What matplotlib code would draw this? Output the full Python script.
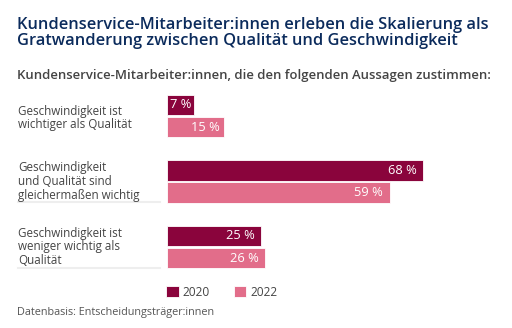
import matplotlib.pyplot as plt
import matplotlib.transforms as mtransforms

plt.rcParams['font.family'] = ['Open Sans', 'DejaVu Sans']

# Survey data
categories = [
    "Geschwindigkeit ist\nwichtiger als Qualität",
    "Geschwindigkeit\nund Qualität sind\ngleichermaßen wichtig",
    "Geschwindigkeit ist\nweniger wichtig als\nQualität",
]
values_2020 = [7, 68, 25]
values_2022 = [15, 59, 26]
years = ["2020", "2022"]

color_2020 = "#8a043c"
color_2022 = "#e26d8a"
navy = "#0b2b5c"
gray = "#444444"

fig = plt.figure(figsize=(5.12, 3.28), dpi=100)
fig.patch.set_facecolor("white")

# axes placed so bars start at the same left edge as the value column
ax = fig.add_axes([167.3 / 512, 1 - 272 / 328, 1 - 167.3 / 512, 182 / 328])
ax.set_xlim(0, 91.5)
ax.set_ylim(2.382, -0.397)
ax.axis("off")

bar_h = 0.313
off = 0.171
ypos = list(range(len(categories)))

b1 = ax.barh([y - off for y in ypos], values_2020, height=bar_h,
             color=color_2020, edgecolor="white", linewidth=0.6, label=years[0])
b2 = ax.barh([y + off for y in ypos], values_2022, height=bar_h,
             color=color_2022, edgecolor="white", linewidth=0.6, label=years[1])


def pad(v):
    # small bars get a tighter inset so the label stays inside
    return min(1.8, v * 0.07)


for y, v in zip(ypos, values_2020):
    ax.text(v - pad(v), y - off, f"{v} %", ha="right", va="center",
            color="white", fontsize=9.3)
for y, v in zip(ypos, values_2022):
    ax.text(v - pad(v), y + off, f"{v} %", ha="right", va="center",
            color="white", fontsize=9.3)

# category labels on the left, with thin rules under the multi-line ones
trans = mtransforms.blended_transform_factory(fig.transFigure, ax.transData)
for i, (y, lab) in enumerate(zip(ypos, categories)):
    ax.text(18 / 512, y + (0.03 if i == 0 else 0), lab, transform=trans,
            ha="left", va="center", fontsize=8.4, color=gray, linespacing=1.07)
    if i > 0:
        ax.plot([18 / 512, 160 / 512], [y + 0.32, y + 0.32], transform=trans,
                color="#eeeeee", lw=1.5, clip_on=False)

fig.text(17 / 512, 1 - 33 / 328,
         "Kundenservice-Mitarbeiter:innen erleben die Skalierung als\n"
         "Gratwanderung zwischen Qualität und Geschwindigkeit",
         ha="left", va="center", fontsize=11.8, fontweight="semibold",
         color=navy, linespacing=1.05)
fig.text(17 / 512, 1 - 76 / 328,
         "Kundenservice-Mitarbeiter:innen, die den folgenden Aussagen zustimmen:",
         ha="left", va="center", fontsize=9.45, fontweight="semibold", color=gray)

fig.legend(handles=[b1, b2], labels=years, loc="center left",
           bbox_to_anchor=(166 / 512, 1 - 292 / 328), ncol=2, frameon=False,
           fontsize=8.6, labelcolor=gray, handlelength=1.05, handleheight=1.05,
           handletextpad=0.35, columnspacing=2.0, borderpad=0, borderaxespad=0)

fig.text(17 / 512, 1 - 313 / 328, "Datenbasis: Entscheidungsträger:innen",
         ha="left", va="center", fontsize=7.8, color="#555555")

fig.savefig("out.png", dpi=100, facecolor="white")
